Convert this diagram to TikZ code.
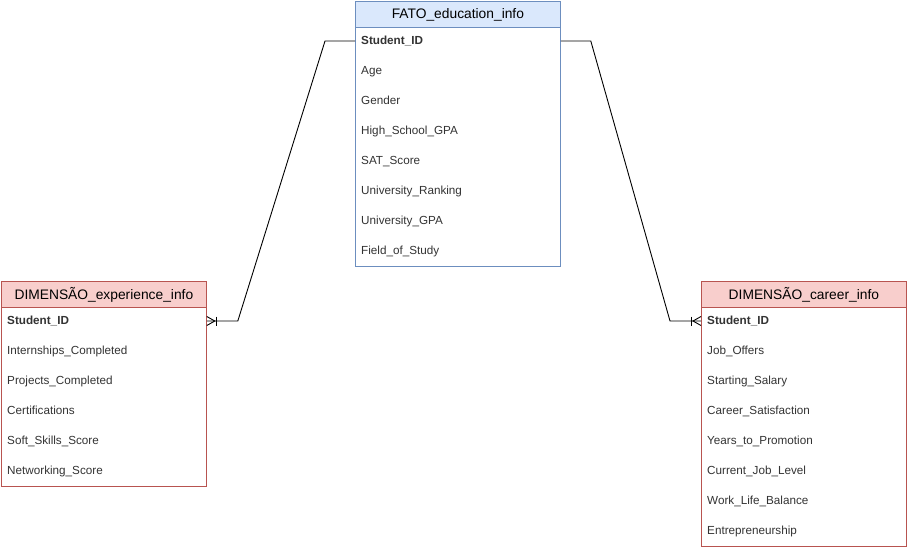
\documentclass[tikz,border=0pt]{standalone}
\usepackage{fontspec}
\setmainfont{Liberation Sans}
\usetikzlibrary{calc}
\definecolor{fatofill}{HTML}{DAE8FC}
\definecolor{fatoline}{HTML}{6C8EBF}
\definecolor{dimfill}{HTML}{F8CECC}
\definecolor{dimline}{HTML}{B85450}
\definecolor{txt}{HTML}{333333}
\tikzset{
  boxbody/.style={draw, fill=white, minimum width=205pt, anchor=north west, inner sep=0pt, line width=0.8pt},
  boxhdr/.style={draw, minimum width=205pt, minimum height=26pt, anchor=north west, inner sep=0pt, line width=0.8pt, font=\fontsize{13.8}{16}\selectfont, text=black},
  fatostyle/.style={draw=fatoline, fill=fatofill},
  dimstyle/.style={draw=dimline, fill=dimfill},
  rowtext/.style={anchor=west, inner sep=0pt, text height=8.4pt, text depth=0pt, font=\fontsize{11.7}{14}\selectfont, text=txt},
  keytext/.style={rowtext, font=\fontsize{11.7}{14}\selectfont\bfseries},
  conn/.style={draw=black, line width=0.9pt},
}
\begin{document}
\begin{tikzpicture}[x=1pt,y=-1pt]
\useasboundingbox (0,0) rectangle (907,550);
% FATO table
\node[boxbody, draw=fatoline, minimum height=240pt] (fato) at (355,26) {};
\node[boxhdr, fatostyle] (fatoh) at (355,1) {FATO\_education\_info};
\node[keytext] (f1) at (361,40.6) {Student\_ID};
\node[rowtext] (f2) at (361,70.4) {Age};
\node[rowtext] (f3) at (361,100.4) {Gender};
\node[rowtext] (f4) at (361,130.4) {High\_School\_GPA};
\node[rowtext] (f5) at (361,160.4) {SAT\_Score};
\node[rowtext] (f6) at (361,190.4) {University\_Ranking};
\node[rowtext] (f7) at (361,220.4) {University\_GPA};
\node[rowtext] (f8) at (361,250.4) {Field\_of\_Study};
% experience table
\node[boxbody, draw=dimline, minimum height=180pt] (exp) at (1,306) {};
\node[boxhdr, dimstyle] (exph) at (1,281) {DIMENSÃO\_experience\_info};
\node[keytext] (e1) at (7,320.6) {Student\_ID};
\node[rowtext] (e2) at (7,350.4) {Internships\_Completed};
\node[rowtext] (e3) at (7,380.4) {Projects\_Completed};
\node[rowtext] (e4) at (7,410.4) {Certifications};
\node[rowtext] (e5) at (7,440.4) {Soft\_Skills\_Score};
\node[rowtext] (e6) at (7,470.4) {Networking\_Score};
% career table
\node[boxbody, draw=dimline, minimum height=240pt] (car) at (701,306) {};
\node[boxhdr, dimstyle] (carh) at (701,281) {DIMENSÃO\_career\_info};
\node[keytext] (c1) at (707,320.6) {Student\_ID};
\node[rowtext] (c2) at (707,350.4) {Job\_Offers};
\node[rowtext] (c3) at (707,380.4) {Starting\_Salary};
\node[rowtext] (c4) at (707,410.4) {Career\_Satisfaction};
\node[rowtext] (c5) at (707,440.4) {Years\_to\_Promotion};
\node[rowtext] (c6) at (707,470.4) {Current\_Job\_Level};
\node[rowtext] (c7) at (707,500.4) {Work\_Life\_Balance};
\node[rowtext] (c8) at (707,530.4) {Entrepreneurship};
% connectors
\coordinate (fL) at ($(fato.west |- f1)+(0,0.4)$);
\coordinate (fR) at ($(fato.east |- f1)+(0,0.4)$);
\coordinate (eR) at ($(exp.east |- e1)+(0,0.4)$);
\coordinate (cL) at ($(car.west |- c1)+(0,0.4)$);
\draw[conn] (fL) -- ++(-30,0) -- ($(eR)+(31,0)$) -- (eR);
\draw[conn] (fR) -- ++(30,0) -- ($(cL)+(-31,0)$) -- (cL);
% crow's feet (one or many)
\draw[conn] ($(eR)+(0,-4.5)$) -- ($(eR)+(8,0)$) -- ($(eR)+(0,4.5)$);
\draw[conn] ($(eR)+(10,-4.5)$) -- ($(eR)+(10,4.5)$);
\draw[conn] ($(cL)+(0,-4.5)$) -- ($(cL)+(-8,0)$) -- ($(cL)+(0,4.5)$);
\draw[conn] ($(cL)+(-10,-4.5)$) -- ($(cL)+(-10,4.5)$);
\end{tikzpicture}
\end{document}
